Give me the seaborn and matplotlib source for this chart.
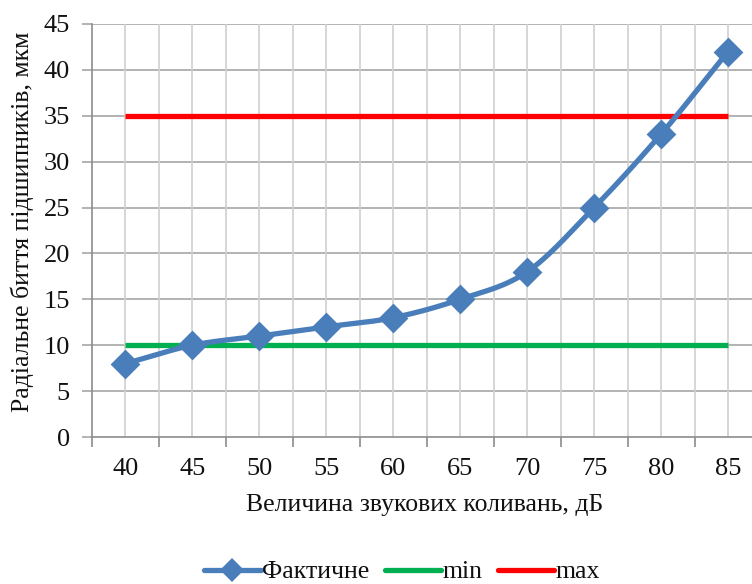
import numpy as np
import pandas as pd
import matplotlib
matplotlib.use("Agg")
import matplotlib.pyplot as plt
from matplotlib.lines import Line2D
import seaborn as sns

# Data
levels_db = [40, 45, 50, 55, 60, 65, 70, 75, 80, 85]
runout_um = [8, 10, 11, 12, 13, 15, 18, 25, 33, 42]
limit_min = [10] * len(levels_db)
limit_max = [35] * len(levels_db)

BLUE = "#4A7EBB"
GREEN = "#00B050"
RED = "#FF0000"

sns.set_theme(style="white")
plt.rcParams["font.family"] = ["Liberation Serif", "DejaVu Serif"]


def catmull_rom(x, y, n=30):
    """Smooth curve through the given points (Catmull-Rom spline)."""
    x = np.asarray(x, float)
    y = np.asarray(y, float)
    px = np.concatenate([[2 * x[0] - x[1]], x, [2 * x[-1] - x[-2]]])
    py = np.concatenate([[2 * y[0] - y[1]], y, [2 * y[-1] - y[-2]]])
    xs, ys = [], []
    t = np.linspace(0, 1, n, endpoint=False)
    for i in range(1, len(px) - 2):
        for arr, out in ((px, xs), (py, ys)):
            p0, p1, p2, p3 = arr[i - 1], arr[i], arr[i + 1], arr[i + 2]
            out.extend(0.5 * ((2 * p1) + (-p0 + p2) * t
                              + (2 * p0 - 5 * p1 + 4 * p2 - p3) * t ** 2
                              + (-p0 + 3 * p1 - 3 * p2 + p3) * t ** 3))
    xs.append(x[-1])
    ys.append(y[-1])
    return np.array(xs), np.array(ys)


pos = np.arange(len(levels_db))
df = pd.DataFrame({"pos": pos, "runout": runout_um,
                   "min": limit_min, "max": limit_max})
sx, sy = catmull_rom(pos, runout_um)
smooth = pd.DataFrame({"x": sx, "y": sy})

fig = plt.figure(figsize=(7.52, 5.84), dpi=100)
ax = fig.add_axes([92 / 752, 1 - 437 / 584, 669.5 / 752, 413 / 584])

# Grid: horizontal every 5 units, vertical at category centres and boundaries
for v in np.arange(5, 46, 5):
    ax.axhline(v, color="#A6A6A6", lw=1.2, zorder=0)
for v in np.arange(-0.5, len(pos), 0.5):
    if v > -0.5:
        ax.axvline(v, color="#D0D0D0", lw=1.2, zorder=0)

sns.lineplot(data=df, x="pos", y="min", color=GREEN, lw=3.8, ax=ax,
             zorder=2, solid_capstyle="butt")
sns.lineplot(data=df, x="pos", y="max", color=RED, lw=3.8, ax=ax,
             zorder=2, solid_capstyle="butt")
sns.lineplot(data=smooth, x="x", y="y", color=BLUE, lw=3.8, ax=ax,
             zorder=3, sort=False)
sns.scatterplot(data=df, x="pos", y="runout", marker="D", s=230,
                color=BLUE, edgecolor=BLUE, linewidth=0, ax=ax, zorder=4)

ax.set_xlim(-0.5, len(pos) - 0.5)
ax.set_ylim(0, 45)
ax.set_yticks(np.arange(0, 46, 5))
ax.set_xticks(np.arange(-0.5, len(pos), 1.0))
ax.set_xticklabels([])
ax.set_xticks(pos, minor=True)
ax.set_xticklabels([str(v) for v in levels_db], minor=True)
ax.tick_params(axis="x", which="major", direction="out", length=7,
               width=1.2, color="#8C8C8C", bottom=True)
ax.tick_params(axis="x", which="minor", length=0, pad=15,
               labelsize=19, labelcolor="#111111")
ax.tick_params(axis="y", direction="out", length=7, width=1.2,
               color="#A6A6A6", left=True, pad=9, labelsize=19,
               labelcolor="#111111")

for side in ("top", "right"):
    ax.spines[side].set_visible(False)
for side in ("left", "bottom"):
    ax.spines[side].set_color("#8C8C8C")
    ax.spines[side].set_linewidth(1.2)

ax.set_xlabel("Величина звукових коливань, дБ", fontsize=18.5,
              color="#111111")
ax.set_ylabel("Радіальне биття підшипників, мкм", fontsize=18.5,
              color="#111111")
ax.xaxis.set_label_coords((425 - 92) / 669.5, -57 / 413)
ax.yaxis.set_label_coords(-58 / 669.5, (437 - 222) / 413)

handles = [
    Line2D([], [], color=BLUE, lw=3.8, marker="D", markersize=12,
           markeredgewidth=0),
    Line2D([], [], color=GREEN, lw=3.8),
    Line2D([], [], color=RED, lw=3.8),
]
fig.legend(handles, ["Фактичне", "min", "max"], loc="center",
           bbox_to_anchor=(402 / 752, 1 - 572 / 584), ncol=3, frameon=False,
           fontsize=18.5, handlelength=2.2, handletextpad=0.05,
           columnspacing=0.6, labelcolor="#111111")

fig.savefig("out.png", dpi=100)
